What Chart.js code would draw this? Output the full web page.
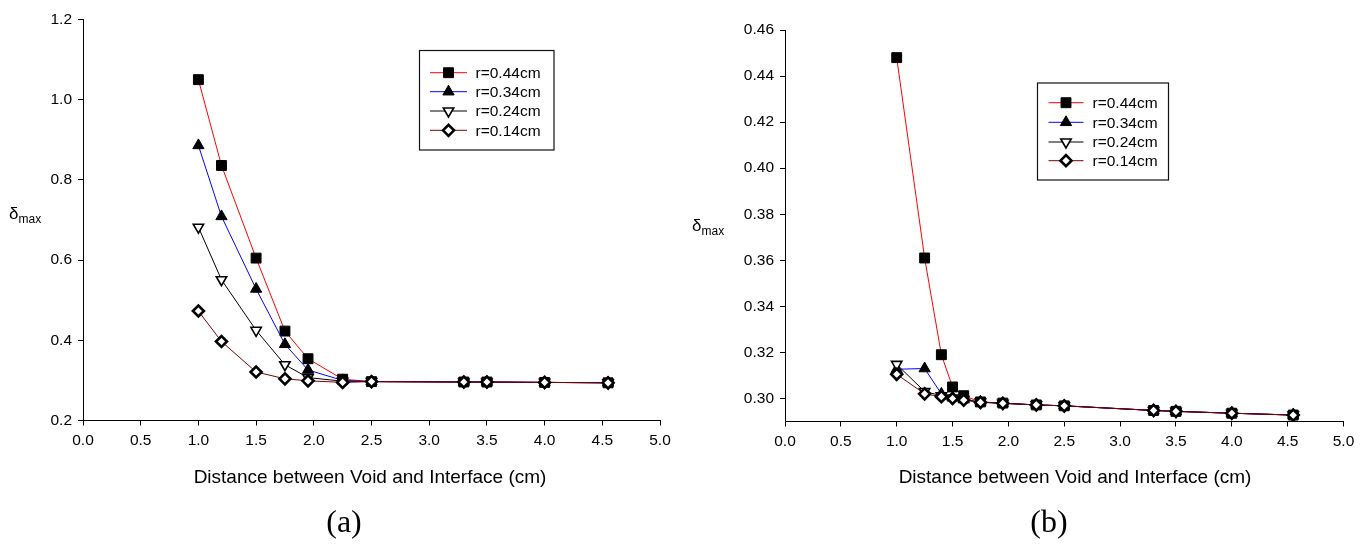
<!DOCTYPE html>
<html>
<head>
<meta charset="utf-8">
<script src="https://cdn.jsdelivr.net/npm/chart.js@4.4.1/dist/chart.umd.min.js"></script>
<style>
  body { margin: 0; background: #fff; width: 1367px; height: 546px; position: relative; overflow: hidden;
         font-family: "Liberation Sans", Arial, sans-serif; }
  canvas { position: absolute; top: 0; }
  .lbl { position: absolute; color: #000; white-space: nowrap; }
  .xt { font-size: 19px; line-height: 22px; top: 466px; transform: translateX(-50%); }
  .cap { font-family: "Liberation Serif", "Times New Roman", serif; font-size: 32px; line-height: 36px;
         top: 503px; transform: translateX(-50%); }
  .dm { font-size: 17px; line-height: 20px; }
  .dm sub { font-size: 12px; vertical-align: -4px; }
</style>
</head>
<body>
<canvas id="chartA" width="683" height="546" style="left:0"></canvas>
<canvas id="chartB" width="684" height="546" style="left:683px"></canvas>

<div class="lbl dm" style="left:9px;top:204px">δ<sub>max</sub></div>
<div class="lbl dm" style="left:692px;top:216px">δ<sub>max</sub></div>
<div class="lbl xt" style="left:370px">Distance between Void and Interface (cm)</div>
<div class="lbl xt" style="left:1075px">Distance between Void and Interface (cm)</div>
<div class="lbl cap" style="left:344px">(a)</div>
<div class="lbl cap" style="left:1049px">(b)</div>

<script>
// series labels
const seriesNames = ["r=0.44cm", "r=0.34cm", "r=0.24cm", "r=0.14cm"];

// (a) values
const distA = [1.0, 1.2, 1.5, 1.75, 1.95, 2.25, 2.5, 3.3, 3.5, 4.0, 4.55];
const r44A = [1.050, 0.836, 0.605, 0.423, 0.354, 0.303, 0.297, 0.296, 0.296, 0.295, 0.294];
const r34A = [0.886, 0.709, 0.528, 0.390, 0.326, 0.300, 0.297, 0.296, 0.296, 0.295, 0.294];
const r24A = [0.682, 0.551, 0.425, 0.339, 0.307, 0.298, 0.297, 0.296, 0.296, 0.295, 0.294];
const r14A = [0.473, 0.397, 0.321, 0.304, 0.299, 0.295, 0.297, 0.296, 0.296, 0.295, 0.294];

// (b) values
const distB = [1.0, 1.25, 1.4, 1.5, 1.6, 1.75, 1.95, 2.25, 2.5, 3.3, 3.5, 4.0, 4.55];
const r44B = [0.448, 0.361, 0.319, 0.305, 0.3012, 0.2985, 0.2980, 0.2972, 0.2968, 0.2948, 0.2944, 0.2936, 0.2928];
const r34B = [0.3127, 0.3130, 0.3020, 0.3003, 0.2995, 0.2985, 0.2979, 0.2972, 0.2968, 0.2948, 0.2944, 0.2936, 0.2928];
const r24B = [0.3148, 0.3030, 0.3012, 0.3002, 0.2995, 0.2984, 0.2979, 0.2972, 0.2968, 0.2948, 0.2944, 0.2936, 0.2928];
const r14B = [0.3105, 0.3020, 0.3008, 0.3000, 0.2993, 0.2983, 0.2979, 0.2972, 0.2968, 0.2948, 0.2944, 0.2936, 0.2928];

// tick labels
const xTicks = [0.0, 0.5, 1.0, 1.5, 2.0, 2.5, 3.0, 3.5, 4.0, 4.5, 5.0];
const yTicksA = [0.2, 0.4, 0.6, 0.8, 1.0, 1.2];
const yTicksB = [0.30, 0.32, 0.34, 0.36, 0.38, 0.40, 0.42, 0.44, 0.46];

Chart.defaults.font.family = '"Liberation Sans", Arial, sans-serif';
Chart.defaults.font.size = 15.5;
Chart.defaults.color = '#000';

// line + marker look of each series
const looks = [
    { borderColor: '#ff0000', pointStyle: 'rect', pointRadius: 7, pointBackgroundColor: '#000', pointBorderColor: '#000', pointBorderWidth: 1, order: 4 },
    { borderColor: '#0000ff', pointStyle: 'triangle', pointRadius: 6.5, pointBackgroundColor: '#000', pointBorderColor: '#000', pointBorderWidth: 1, order: 3 },
    { borderColor: '#000000', pointStyle: 'triangle', pointRotation: 180, pointRadius: 6, pointBackgroundColor: '#fff', pointBorderColor: '#000', pointBorderWidth: 1.6, order: 2 },
    { borderColor: '#800000', pointStyle: 'rectRot', pointRadius: 5.5, pointBackgroundColor: '#fff', pointBorderColor: '#000', pointBorderWidth: 2.6, order: 1 }
];

// legend drawn as a framed box inside the plot
const boxLegend = {
    id: 'boxLegend',
    afterDraw(chart, args, opts) {
        const ctx = chart.ctx;
        ctx.save();
        ctx.strokeStyle = '#111';
        ctx.lineWidth = 1.2;
        ctx.strokeRect(opts.x, opts.y, opts.w, opts.h);
        chart.data.datasets.forEach(function (ds, i) {
            const y = opts.rowY[i];
            ctx.strokeStyle = ds.borderColor;
            ctx.lineWidth = 1;
            ctx.beginPath();
            ctx.moveTo(opts.lineX0, y);
            ctx.lineTo(opts.lineX1, y);
            ctx.stroke();
            ctx.fillStyle = ds.pointBackgroundColor;
            ctx.strokeStyle = ds.pointBorderColor;
            ctx.lineWidth = ds.pointBorderWidth;
            Chart.helpers.drawPoint(ctx, {
                pointStyle: ds.pointStyle,
                rotation: ds.pointRotation || 0,
                radius: ds.pointRadius,
                borderWidth: ds.pointBorderWidth
            }, opts.markX, y);
            ctx.fillStyle = '#000';
            ctx.font = '15.5px "Liberation Sans", Arial, sans-serif';
            ctx.textBaseline = 'middle';
            ctx.textAlign = 'left';
            ctx.fillText(ds.label, opts.textX, y + 1);
        });
        ctx.restore();
    }
};

function makeChart(id, dist, seriesList, yMin, yMax, yTicks, digits, area, legendOpts) {
    const canvas = document.getElementById(id);
    const datasets = seriesList.map(function (vals, i) {
        return Object.assign({
            label: seriesNames[i],
            data: vals.map(function (v, k) { return { x: dist[k], y: v }; }),
            showLine: true,
            borderWidth: 1,
            fill: false
        }, looks[i]);
    });
    return new Chart(canvas.getContext('2d'), {
        type: 'scatter',
        data: { datasets: datasets },
        plugins: [boxLegend],
        options: {
            responsive: false,
            animation: false,
            layout: { padding: { left: 0, top: area.top, right: canvas.width - area.right, bottom: 0 } },
            plugins: {
                legend: { display: false },
                tooltip: { enabled: false },
                boxLegend: legendOpts
            },
            scales: {
                x: {
                    type: 'linear', min: 0, max: 5,
                    afterBuildTicks: function (s) { s.ticks = xTicks.map(function (v) { return { value: v }; }); },
                    afterFit: function (s) { s.height = canvas.height - area.bottom; },
                    ticks: { padding: 6, maxRotation: 0, autoSkip: false, callback: function (v) { return v.toFixed(1); } },
                    grid: { drawOnChartArea: false, drawTicks: true, tickLength: 5, color: '#000' },
                    border: { display: true, color: '#000', width: 1 }
                },
                y: {
                    type: 'linear', min: yMin, max: yMax,
                    afterBuildTicks: function (s) { s.ticks = yTicks.map(function (v) { return { value: v }; }); },
                    afterFit: function (s) { s.width = area.left; },
                    ticks: { padding: 6, autoSkip: false, callback: function (v) { return v.toFixed(digits); } },
                    grid: { drawOnChartArea: false, drawTicks: true, tickLength: 5, color: '#000' },
                    border: { display: true, color: '#000', width: 1 }
                }
            }
        }
    });
}

makeChart('chartA', distA, [r44A, r34A, r24A, r14A], 0.2, 1.2, yTicksA, 1,
    { left: 83, right: 660, top: 19.5, bottom: 420.5 },
    { x: 419.5, y: 50.5, w: 134.5, h: 99.5, lineX0: 430, lineX1: 467, markX: 448.5, textX: 475.5, rowY: [72.7, 91.7, 111, 130.3] });

makeChart('chartB', distB, [r44B, r34B, r24B, r14B], 0.29, 0.46, yTicksB, 2,
    { left: 102, right: 660.5, top: 30, bottom: 421.5 },
    { x: 354.5, y: 83, w: 131, h: 97, lineX0: 365.5, lineX1: 400.5, markX: 383, textX: 409.5, rowY: [102.7, 122.3, 142, 160.7] });
</script>
</body>
</html>
